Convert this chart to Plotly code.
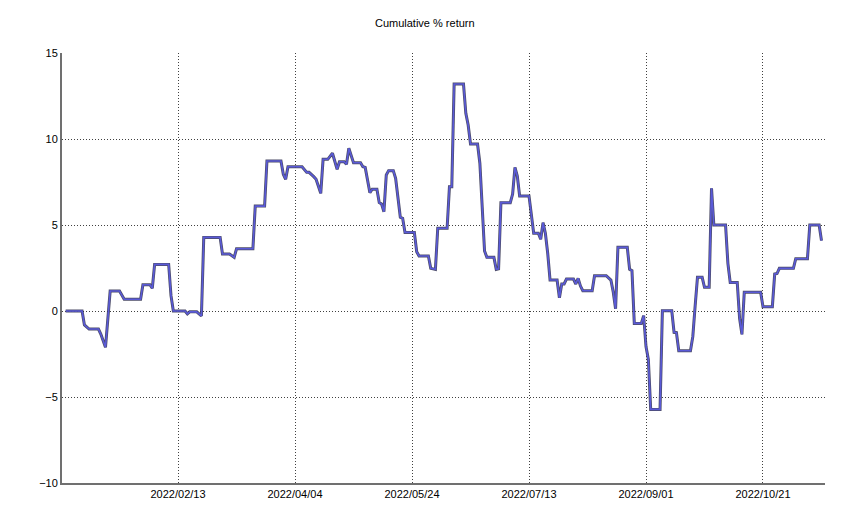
import plotly.graph_objects as go

# vertices of the cumulative return curve
dates = [
    "2021-12-27", "2022-01-03", "2022-01-04", "2022-01-06", "2022-01-10", "2022-01-11",
    "2022-01-13", "2022-01-15", "2022-01-19", "2022-01-21", "2022-01-28", "2022-01-29",
    "2022-02-01", "2022-02-02", "2022-02-03", "2022-02-09", "2022-02-10", "2022-02-11",
    "2022-02-16", "2022-02-17", "2022-02-18", "2022-02-21", "2022-02-23", "2022-02-24",
    "2022-03-03", "2022-03-04", "2022-03-07", "2022-03-09", "2022-03-10", "2022-03-17",
    "2022-03-18", "2022-03-22", "2022-03-23", "2022-03-29", "2022-03-30", "2022-03-31",
    "2022-04-01", "2022-04-07", "2022-04-09", "2022-04-10", "2022-04-12", "2022-04-13",
    "2022-04-15", "2022-04-16", "2022-04-18", "2022-04-20", "2022-04-22", "2022-04-23",
    "2022-04-25", "2022-04-26", "2022-04-27", "2022-04-29", "2022-05-02", "2022-05-03",
    "2022-05-04", "2022-05-06", "2022-05-07", "2022-05-09", "2022-05-10", "2022-05-11",
    "2022-05-12", "2022-05-13", "2022-05-14", "2022-05-16", "2022-05-17", "2022-05-18",
    "2022-05-19", "2022-05-20", "2022-05-21", "2022-05-25", "2022-05-26", "2022-05-27",
    "2022-05-31", "2022-06-01", "2022-06-03", "2022-06-04", "2022-06-08", "2022-06-09",
    "2022-06-10", "2022-06-11", "2022-06-15", "2022-06-16", "2022-06-17", "2022-06-18",
    "2022-06-21", "2022-06-22", "2022-06-23", "2022-06-24", "2022-06-25", "2022-06-28",
    "2022-06-29", "2022-06-30", "2022-07-01", "2022-07-05", "2022-07-06", "2022-07-07",
    "2022-07-08", "2022-07-09", "2022-07-13", "2022-07-14", "2022-07-15", "2022-07-17",
    "2022-07-18", "2022-07-19", "2022-07-20", "2022-07-21", "2022-07-22", "2022-07-25",
    "2022-07-26", "2022-07-27", "2022-07-28", "2022-07-29", "2022-08-01", "2022-08-02",
    "2022-08-03", "2022-08-04", "2022-08-05", "2022-08-09", "2022-08-10", "2022-08-15",
    "2022-08-17", "2022-08-18", "2022-08-19", "2022-08-20", "2022-08-24", "2022-08-25",
    "2022-08-26", "2022-08-27", "2022-08-30", "2022-08-31", "2022-09-01", "2022-09-02",
    "2022-09-03", "2022-09-07", "2022-09-08", "2022-09-12", "2022-09-13", "2022-09-14",
    "2022-09-15", "2022-09-20", "2022-09-21", "2022-09-22", "2022-09-23", "2022-09-25",
    "2022-09-26", "2022-09-28", "2022-09-29", "2022-09-30", "2022-10-05", "2022-10-06",
    "2022-10-07", "2022-10-10", "2022-10-11", "2022-10-12", "2022-10-13", "2022-10-20",
    "2022-10-21", "2022-10-25", "2022-10-26", "2022-10-27", "2022-10-28", "2022-11-03",
    "2022-11-04", "2022-11-09", "2022-11-10", "2022-11-14", "2022-11-15",
]
cum_return = [
    0.0, 0.0, -0.81, -1.05, -1.05, -1.34,
    -2.11, 1.16, 1.16, 0.68, 0.68, 1.53,
    1.53, 1.32, 2.71, 2.71, 0.89, 0.0,
    0.0, -0.17, -0.05, -0.05, -0.29, 4.28,
    4.28, 3.31, 3.31, 3.12, 3.62, 3.62,
    6.10, 6.10, 8.72, 8.72, 7.95, 7.66,
    8.39, 8.39, 8.06, 8.06, 7.81, 7.66,
    6.84, 8.82, 8.82, 9.17, 8.24, 8.68,
    8.68, 8.53, 9.46, 8.62, 8.62, 8.39,
    8.35, 6.88, 7.08, 7.08, 6.30, 6.22,
    5.77, 7.91, 8.16, 8.16, 7.71, 6.45,
    5.45, 5.39, 4.57, 4.57, 3.45, 3.20,
    3.20, 2.48, 2.42, 4.81, 4.81, 7.23,
    7.23, 13.2, 13.2, 11.49, 10.81, 9.71,
    9.71, 8.59, 6.32, 3.49, 3.12, 3.12,
    2.42, 2.45, 6.30, 6.30, 6.80, 8.35,
    7.85, 6.69, 6.69, 5.48, 4.52, 4.52,
    4.17, 5.14, 4.52, 3.35, 1.80, 1.80,
    0.77, 1.57, 1.57, 1.86, 1.86, 1.57,
    1.90, 1.45, 1.18, 1.18, 2.05, 2.05,
    1.80, 1.10, 0.13, 3.70, 3.70, 2.42,
    2.34, -0.72, -0.72, -0.27, -2.07, -2.81,
    -5.72, -5.72, 0.02, 0.02, -1.24, -1.26,
    -2.31, -2.31, -1.49, 0.29, 1.96, 1.96,
    1.38, 1.38, 7.13, 5.0, 5.0, 2.77,
    1.65, 1.65, -0.43, -1.36, 1.09, 1.09,
    0.25, 0.25, 2.15, 2.18, 2.48, 2.48,
    3.04, 3.04, 5.0, 5.0, 4.09,
]

tick_dates = ["2022-02-13", "2022-04-04", "2022-05-24", "2022-07-13", "2022-09-01", "2022-10-21"]
tick_labels = ["2022/02/13", "2022/04/04", "2022/05/24", "2022/07/13", "2022/09/01", "2022/10/21"]

fig = go.Figure()
# dark shadow under the line, then the blue stroke on top
fig.add_trace(go.Scatter(x=dates, y=cum_return, mode="lines",
                         line=dict(color="rgba(45,45,75,0.85)", width=3.0),
                         hoverinfo="skip", showlegend=False))
fig.add_trace(go.Scatter(x=dates, y=cum_return, mode="lines",
                         line=dict(color="#5a5ad8", width=1.6),
                         name="Cumulative % return", showlegend=False))

# page body has an 8px margin, so the figure is a bit smaller than the window
fig.update_layout(
    width=842, height=520,
    margin=dict(l=54, r=25, t=45, b=45),
    paper_bgcolor="white", plot_bgcolor="white",
    font=dict(family="Liberation Sans, Arial, sans-serif", size=11, color="black"),
    title=dict(text="Cumulative % return", x=0.495, xanchor="center", y=0.971, yanchor="middle",
               font=dict(size=11, color="black")),
)
fig.update_xaxes(
    range=["2021-12-25 10:00", "2022-11-16 12:00"],
    tickvals=tick_dates, ticktext=tick_labels,
    showgrid=True, gridcolor="#404040", griddash="1px,2px", gridwidth=1,
    showline=True, linecolor="#707070", linewidth=2,
    ticks="", zeroline=False,
)
fig.update_yaxes(
    range=[-10, 15], dtick=5,
    showgrid=True, gridcolor="#404040", griddash="1px,2px", gridwidth=1,
    showline=True, linecolor="#707070", linewidth=2,
    ticks="", zeroline=False,
)

fig.write_html("out.html")
